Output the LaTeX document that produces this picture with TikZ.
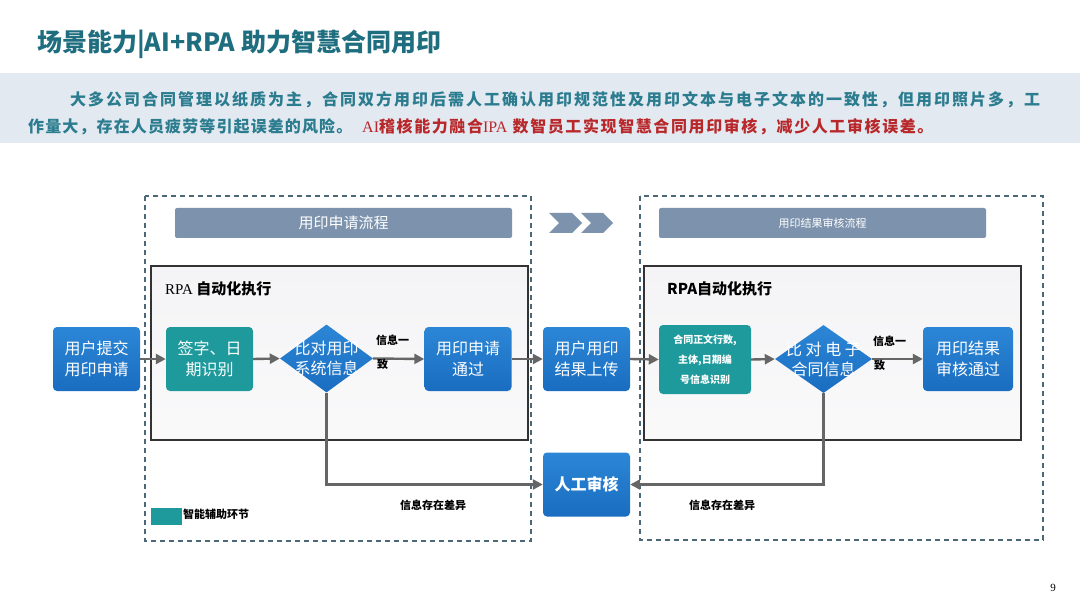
\documentclass[tikz,border=0pt]{standalone}
\usepackage{fontspec}
\setmainfont{Noto Sans CJK SC}
\newfontfamily\serifen{Liberation Serif}
\usetikzlibrary{arrows.meta,shapes.geometric}
\definecolor{titleteal}{HTML}{1F6E80}
\definecolor{parateal}{HTML}{2A7C8E}
\definecolor{parared}{HTML}{B8282A}
\definecolor{band}{HTML}{E3E9F1}
\definecolor{dashc}{HTML}{4B6878}
\definecolor{hdr}{HTML}{7D93AD}
\definecolor{nblue}{HTML}{1A6DC0}
\definecolor{nblue2}{HTML}{2C86D6}
\definecolor{nteal}{HTML}{1F9A9C}
\definecolor{connc}{HTML}{666666}
\definecolor{innerfill}{HTML}{F4F4F6}
\tikzset{
  x=1pt,y=-1pt,
  bluebox/.style={rounded corners=4pt, top color=nblue2, bottom color=nblue, draw=none, text=white, minimum width=87pt, minimum height=64pt, inner sep=0pt, align=center, font=\fontsize{16}{21}\selectfont},
  tealbox/.style={rounded corners=4pt, fill=nteal, draw=none, text=white, minimum width=87pt, minimum height=64pt, inner sep=0pt, align=center, font=\fontsize{16}{21}\selectfont},
  dia/.style={diamond, top color=nblue2, bottom color=nblue, draw=none, inner sep=0pt, minimum width=93pt, minimum height=68pt},
  diatext/.style={text=white, align=center, font=\fontsize{16}{20}\selectfont},
  dashbox/.style={draw=dashc, line width=1.6pt, dash pattern=on 5pt off 4pt},
  innerbox/.style={draw=black!80, line width=1.6pt, top color=innerfill, bottom color=innerfill!50!white},
  hdrbar/.style={fill=hdr, rounded corners=2pt, text=white},
  connline/.style={draw=connc, line width=2.4pt, -{Triangle[length=10pt,width=10pt]}},
  small/.style={font=\bfseries\fontsize{11}{13}\selectfont, text=black},
}
\begin{document}
\begin{tikzpicture}
\useasboundingbox (0,0) rectangle (1080,607);
\fill[white] (0,0) rectangle (1080,607);
% title
\node[anchor=west, text=titleteal, font=\bfseries\fontsize{25}{28}\selectfont, inner sep=0pt] (title) at (37,44) {场景能力|AI+RPA 助力智慧合同用印};
% band
\fill[band] (0,73) rectangle (1080,143);
\node[anchor=west, inner sep=0pt, text=parateal, font=\bfseries\fontsize{16}{20}\selectfont\addfontfeature{LetterSpace=12.5}] (p1) at (70,100) {大多公司合同管理以纸质为主，合同双方用印后需人工确认用印规范性及用印文本与电子文本的一致性，但用印照片多，工};
\node[anchor=west, inner sep=0pt, text=parateal, font=\bfseries\fontsize{16}{20}\selectfont\addfontfeature{LetterSpace=7}] (p2) at (28,127) {作量大，存在人员疲劳等引起误差的风险。};
\node[anchor=west, inner sep=0pt, text=parared, font=\bfseries\fontsize{16}{20}\selectfont\addfontfeature{LetterSpace=10}] (p3) at (362,127) {{\serifen\mdseries\addfontfeature{LetterSpace=0}AI}稽核能力融合{\serifen\mdseries\addfontfeature{LetterSpace=0}IPA} 数智员工实现智慧合同用印审核，减少人工审核误差。};
% dashed containers
\draw[dashbox] (145,196) rectangle (531,541);
\draw[dashbox] (640,196) rectangle (1043,540);
% header bars
\node[hdrbar, minimum width=337pt, minimum height=30pt, font=\fontsize{15}{18}\selectfont] (h1) at (343.5,223) {用印申请流程};
\node[hdrbar, minimum width=327pt, minimum height=30pt, font=\fontsize{11}{14}\selectfont] (h2) at (822.5,223) {用印结果审核流程};
% chevrons
\fill[hdr] (549,213) -- (572,213) -- (582,223) -- (572,233) -- (549,233) -- (559,223) -- cycle;
\fill[hdr] (581,213) -- (603,213) -- (613,223) -- (603,233) -- (581,233) -- (591,223) -- cycle;
% inner RPA boxes
\draw[innerbox] (151,266) rectangle (528,440);
\draw[innerbox] (644,266) rectangle (1021,440);
\node[anchor=west, inner sep=0pt, font=\fontsize{15}{18}\selectfont] (r1) at (165,289) {{\serifen RPA} \textbf{自动化执行}};
\node[anchor=west, inner sep=0pt, font=\bfseries\fontsize{15}{18}\selectfont] (r2) at (667,289) {RPA自动化执行};
% nodes
\node[bluebox] (submit) at (96.5,359) {用户提交\\用印申请};
\node[tealbox] (sign) at (209.5,359) {签字、日\\期识别};
\node[dia] (d1) at (326.5,358.5) {};
\node[bluebox] (pass) at (468,359) {用印申请\\通过};
\node[bluebox] (upload) at (586.5,359) {用户用印\\结果上传};
\node[tealbox, minimum width=92pt, minimum height=69pt, font=\bfseries\fontsize{10}{20}\selectfont] (ocr) at (705,359.5) {合同正文行数,\\主体,日期编\\号信息识别};
\node[dia, minimum width=97pt] (d2) at (823.5,359) {};
\node[bluebox, minimum width=90pt] (final) at (968,359) {用印结果\\审核通过};
\node[bluebox, font=\bfseries\fontsize{16}{21}\selectfont] (manual) at (586.5,484.5) {人工审核};
% connectors
\draw[connline] (submit.east) -- (sign.west);
\draw[connline] (sign.east) -- (d1.west);
\draw[connline] (d1.east) -- (pass.west);
\draw[connline] (pass.east) -- (upload.west);
\draw[connline] (upload.east) -- (ocr.west);
\draw[connline] (ocr.east) -- (d2.west);
\draw[connline] (d2.east) -- (final.west);
\draw[connline] (d1.south) |- (manual.west);
\draw[connline] (d2.south) |- (manual.east);
% diamond text on top
\node[diatext] (d1t) at (326.5,358.5) {比对用印\\系统信息};
\node[diatext] (d2t) at (823.5,359) {比 对 电 子\\合同信息};
% labels
\node[small, anchor=west, inner sep=0pt] (l1a) at (376,340) {信息一};
\node[small, anchor=west, inner sep=0pt] (l1b) at (377,364) {致};
\node[small, anchor=west, inner sep=0pt] (l2a) at (873,341) {信息一};
\node[small, anchor=west, inner sep=0pt] (l2b) at (874,365) {致};
\node[small, anchor=west, inner sep=0pt] (e1) at (400,505) {信息存在差异};
\node[small, anchor=west, inner sep=0pt] (e2) at (689,505) {信息存在差异};
% legend
\fill[nteal] (151,508) rectangle (182,525);
\node[small, anchor=west, inner sep=0pt] (leg) at (183,514) {智能辅助环节};
% page number
\node[inner sep=0pt, font=\serifen\fontsize{11}{13}\selectfont] (pg) at (1053,588) {9};
\end{tikzpicture}
\end{document}
